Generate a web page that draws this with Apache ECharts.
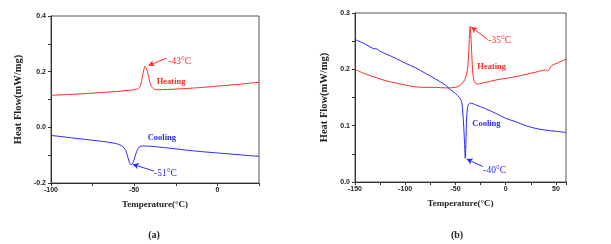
<!DOCTYPE html>
<html>
<head>
<meta charset="utf-8">
<script src="https://cdn.jsdelivr.net/npm/echarts@6/dist/echarts.min.js"></script>
<style>
  html, body { margin: 0; padding: 0; background: #fff; }
  #chart { width: 611px; height: 244px; }
</style>
</head>
<body>
<div id="chart"></div>
<script>
// panel (a) DSC curves: [temperature, heat flow]
const heatA = [
  [-100, 0.115], [-90, 0.118], [-80, 0.121], [-70, 0.125], [-60, 0.129], [-55, 0.132],
  [-50, 0.135], [-48, 0.138], [-47, 0.142], [-46, 0.155], [-45, 0.185], [-44, 0.212],
  [-43.5, 0.220], [-43, 0.216], [-42, 0.200], [-41, 0.173], [-40, 0.152], [-39, 0.142],
  [-38, 0.137], [-36, 0.135], [-30, 0.136], [-20, 0.139], [-10, 0.143], [0, 0.148],
  [10, 0.153], [20, 0.159], [25, 0.162]
]
const coolA = [
  [-100, -0.029], [-90, -0.036], [-80, -0.043], [-70, -0.050], [-62, -0.057], [-60, -0.060],
  [-58, -0.065], [-56, -0.074], [-55, -0.084], [-54, -0.103], [-53, -0.124], [-52, -0.134],
  [-51, -0.130], [-50, -0.115], [-49, -0.095], [-48, -0.080], [-47, -0.071], [-46, -0.068],
  [-44, -0.067], [-40, -0.068], [-30, -0.074], [-20, -0.081], [-10, -0.087], [0, -0.092],
  [10, -0.097], [20, -0.102], [25, -0.104]
]

// panel (b)
const heatB = [
  [-150, 0.200], [-140, 0.192], [-130, 0.186], [-120, 0.180], [-110, 0.176], [-100, 0.172],
  [-90, 0.169], [-80, 0.168], [-70, 0.168], [-60, 0.167], [-50, 0.168], [-45, 0.172],
  [-42, 0.178], [-40, 0.185], [-38, 0.200], [-37, 0.225], [-36, 0.262], [-35.5, 0.276],
  [-35, 0.270], [-34, 0.235], [-33, 0.200], [-32, 0.183], [-30, 0.175], [-28, 0.174],
  [-20, 0.177], [-10, 0.181], [0, 0.184], [10, 0.187], [20, 0.191], [30, 0.195],
  [40, 0.199], [42, 0.197], [44, 0.202], [46, 0.207], [50, 0.210], [55, 0.214], [60, 0.218]
]
const coolB = [
  [-150, 0.253], [-140, 0.245], [-132, 0.237], [-128, 0.236], [-125, 0.232], [-120, 0.228],
  [-110, 0.220], [-100, 0.211], [-90, 0.203], [-80, 0.193], [-70, 0.183], [-60, 0.172],
  [-55, 0.164], [-50, 0.157], [-46, 0.150], [-44, 0.143], [-43, 0.130], [-42, 0.105],
  [-41, 0.070], [-40.3, 0.042], [-39.5, 0.075], [-39, 0.110], [-38, 0.132], [-37, 0.138],
  [-35, 0.140], [-30, 0.137], [-20, 0.130], [-10, 0.122], [0, 0.113], [10, 0.107],
  [20, 0.100], [30, 0.095], [40, 0.092], [50, 0.090], [60, 0.088]
]

// annotation anchors in data units: [x, y, text]
const textsA = [
  [-29.5, 0.237, '-43°C', 'red'], [-36.5, 0.165, 'Heating', 'red'],
  [-41.9, -0.036, 'Cooling', 'blue'], [-38.1, -0.165, '-51°C', 'blue']
]
const arrowsA = [
  [[-30.5, 0.249], [-41.5, 0.222], 'red'],
  [[-38.1, -0.157], [-50.9, -0.133], 'blue']
]
const textsB = [
  [-17.4, 0.2505, '-35°C', 'red'], [-28.3, 0.204, 'Heating', 'red'],
  [-33.3, 0.1037, 'Cooling', 'blue'], [-22.3, 0.0205, '-40°C', 'blue']
]
const arrowsB = [
  [[-18, 0.253], [-34.3, 0.2753], 'red'],
  [[-22.9, 0.0276], [-38.9, 0.0407], 'blue']
]

const RED = '#ff2a2a'
const BLUE = '#2a2aff'
const colorOf = c => (c === 'red' ? RED : BLUE)
const serif = '"Liberation Serif", "Times New Roman", serif'
const sans = '"Liberation Sans", Arial, sans-serif'

const chart = echarts.init(document.getElementById('chart'))

function xAxisFor(gridIndex, min, max) {
  return {
    gridIndex, type: 'value', min, max, interval: 25,
    name: 'Temperature(°C)', nameLocation: 'middle', nameGap: 17,
    nameTextStyle: { fontFamily: serif, fontWeight: 'bold', fontSize: 9, color: '#222' },
    axisLine: { onZero: false, lineStyle: { color: '#333', width: 1 } },
    axisTick: { show: true, inside: false, length: 3, lineStyle: { color: '#333' } },
    axisLabel: {
      fontFamily: sans, fontWeight: 'bold', fontSize: 7, color: '#222', margin: 4,
      formatter: v => (v % 50 === 0 ? String(v) : '')
    },
    splitLine: { show: false }
  }
}

function yAxisFor(gridIndex, min, max, interval, labelStep, gap) {
  return {
    gridIndex, type: 'value', min, max, interval,
    name: 'Heat Flow(mW/mg)', nameLocation: 'middle', nameGap: gap,
    nameTextStyle: { fontFamily: serif, fontWeight: 'bold', fontSize: 10.5, color: '#222' },
    axisLine: { onZero: false, lineStyle: { color: '#333', width: 1 } },
    axisTick: { show: true, inside: false, length: 3, lineStyle: { color: '#333' } },
    axisLabel: {
      fontFamily: sans, fontWeight: 'bold', fontSize: 7, color: '#222', margin: 5,
      formatter: v => {
        const k = Math.round(v / interval)
        return k % labelStep === 0 ? v.toFixed(1) : ''
      }
    },
    splitLine: { show: false }
  }
}

function curve(data, color, idx) {
  return {
    type: 'line', data, xAxisIndex: idx, yAxisIndex: idx,
    showSymbol: false, smooth: 0.3, silent: true,
    lineStyle: { color, width: 1 }
  }
}

function annotations(texts, arrows, idx) {
  return {
    type: 'scatter', data: [], xAxisIndex: idx, yAxisIndex: idx, silent: true,
    markPoint: {
      symbol: 'circle', symbolSize: 0,
      data: texts.map(t => ({
        coord: [t[0], t[1]],
        label: {
          show: true, formatter: t[2], position: 'right', distance: 0,
          fontFamily: serif, fontSize: t[2].indexOf('°') >= 0 ? 9.5 : 8.5,
          fontWeight: t[2].indexOf('°') >= 0 ? 'normal' : 'bold',
          color: colorOf(t[3])
        }
      }))
    },
    markLine: {
      silent: true, symbol: ['none', 'arrow'], symbolSize: [5, 6],
      label: { show: false },
      data: arrows.map(a => [
        { coord: a[0], lineStyle: { color: colorOf(a[2]), width: 1, type: 'solid' } },
        { coord: a[1] }
      ])
    }
  }
}

chart.setOption({
  animation: false,
  backgroundColor: '#fff',
  title: [
    { text: '(a)', left: 149, top: 225, textAlign: 'center',
      textStyle: { fontFamily: serif, fontWeight: 'bold', fontSize: 10, color: '#222' } },
    { text: '(b)', left: 452, top: 225, textAlign: 'center',
      textStyle: { fontFamily: serif, fontWeight: 'bold', fontSize: 10, color: '#222' } }
  ],
  grid: [
    { left: 51, top: 16, width: 208, height: 167, show: true, borderColor: '#555', borderWidth: 1, backgroundColor: 'transparent' },
    { left: 355, top: 13, width: 211, height: 169, show: true, borderColor: '#555', borderWidth: 1, backgroundColor: 'transparent' }
  ],
  xAxis: [xAxisFor(0, -100, 25), xAxisFor(1, -150, 60)],
  yAxis: [yAxisFor(0, -0.2, 0.4, 0.1, 2, 27), yAxisFor(1, 0, 0.3, 0.05, 2, 25)],
  series: [
    curve(heatA, RED, 0), curve(coolA, BLUE, 0),
    curve(heatB, RED, 1), curve(coolB, BLUE, 1),
    annotations(textsA, arrowsA, 0), annotations(textsB, arrowsB, 1)
  ]
})
</script>
</body>
</html>
